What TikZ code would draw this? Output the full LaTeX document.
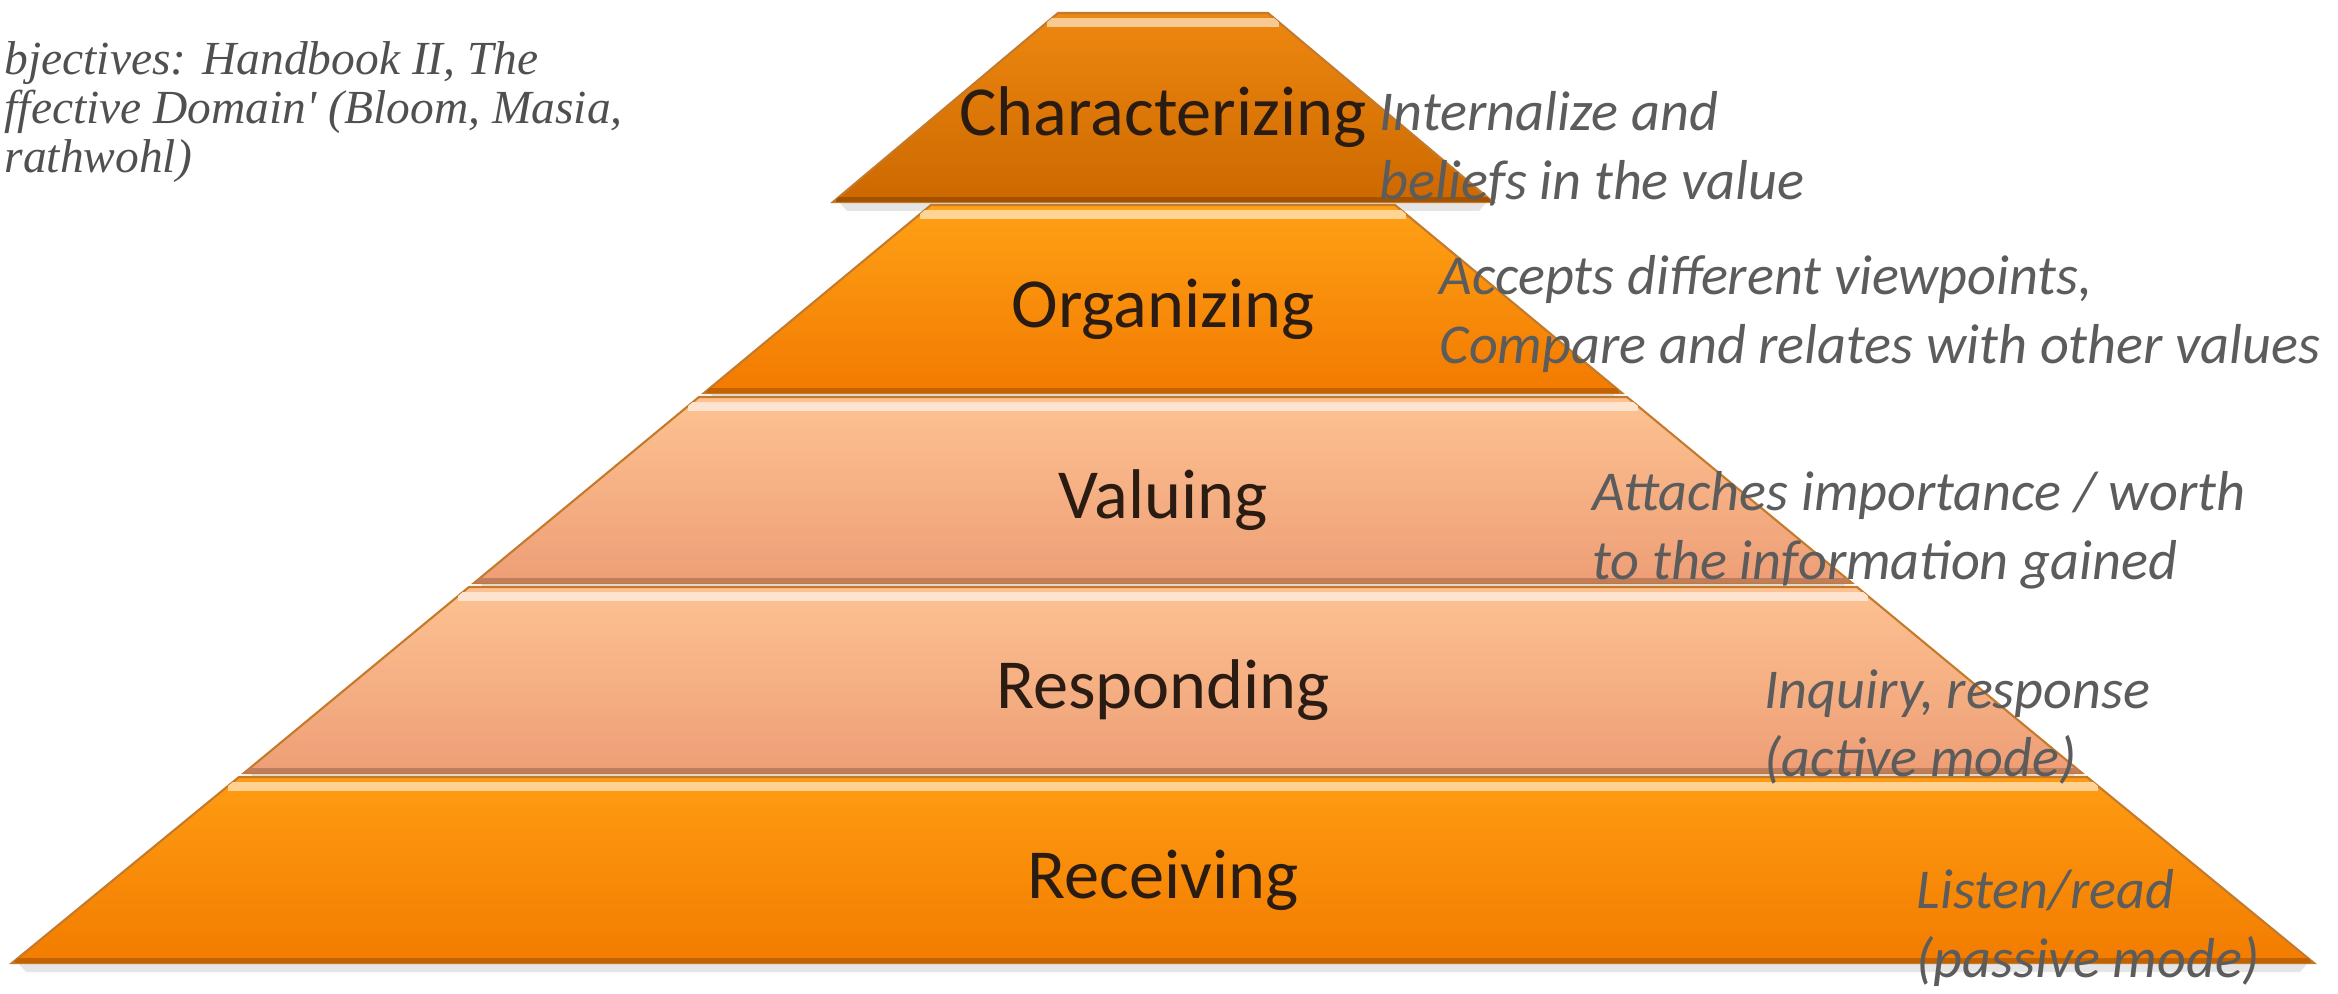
\documentclass[tikz,border=0pt]{standalone}
\usepackage{fontspec}
\newfontfamily\calib{Carlito}
\newfontfamily\serifit{Liberation Serif}
\usepackage{tikz}
\usetikzlibrary{calc}
\usetikzlibrary{positioning}

\definecolor{charTop}{HTML}{EE8810}
\definecolor{charBot}{HTML}{CC6800}
\definecolor{orgTop}{HTML}{FFA116}
\definecolor{orgBot}{HTML}{F27A00}
\definecolor{peachTop}{HTML}{FDC292}
\definecolor{peachBot}{HTML}{EE9E76}
\definecolor{recTop}{HTML}{FF9C12}
\definecolor{recBot}{HTML}{F27C00}
\definecolor{tieredge}{HTML}{C47A2C}
\definecolor{nametext}{HTML}{2A1C12}
\definecolor{remarkgray}{HTML}{5C5C5C}
\definecolor{citegray}{HTML}{505050}

\begin{document}
\begin{tikzpicture}[x=0.01cm, y=-0.01cm,
        tier/.style={draw=tieredge, line width=0.6pt, line join=miter},
        shine/.style={line width=2.5pt},
        levelname/.style={font=\calib\fontsize{20}{24}\selectfont, text=nametext, inner sep=0pt},
        remark/.style={font=\calib\itshape\fontsize{16}{19.5}\selectfont, text=remarkgray, align=left, anchor=west, inner sep=0pt},
        citation/.style={font=\serifit\itshape\fontsize{13.5}{14}\selectfont, text=citegray, align=left, anchor=west, inner sep=0pt}]
            \useasboundingbox (0,0) rectangle (2338,994);
            \clip (0,0) rectangle (2338,994);
            \coordinate (apex) at (1163,0);
            \def\tiers{13/202/105/330/charTop/charBot/Characterizing,
                205/393/232/459/orgTop/orgBot/Organizing,
                397/583/464/689/peachTop/peachBot/Valuing,
                587/773/694/919/peachTop/peachBot/Responding,
                777/963/924/1151/recTop/recBot/Receiving}
            \foreach \ya/\yb/\wa/\wb/\ca/\cb/\name[count=\i from 1] in \tiers
            {
                \coordinate (tl\i) at ($(apex)+(-\wa,\ya)$);
                \coordinate (tr\i) at ($(apex)+(\wa,\ya)$);
                \coordinate (bl\i) at ($(apex)+(-\wb,\yb)$);
                \coordinate (br\i) at ($(apex)+(\wb,\yb)$);
                \fill[black, opacity=0.10] ($(bl\i)+(6,0)$) -- ($(br\i)+(-6,0)$) -- ($(br\i)+(-14,9)$) -- ($(bl\i)+(14,9)$) -- cycle;
                \shade[tier, top color=\ca, bottom color=\cb] (tl\i) -- (tr\i) -- (br\i) -- (bl\i) -- cycle;
                \begin{scope}
                    \clip (tl\i) -- (tr\i) -- (br\i) -- (bl\i) -- cycle;
                    \draw[shine, draw=\ca!45!white] ($(tl\i)!0.05!(bl\i)$) -- ($(tr\i)!0.05!(br\i)$);
                    \draw[line width=1.5pt, draw=\cb!80!black] ($(bl\i)!0.015!(tl\i)$) -- ($(br\i)!0.015!(tr\i)$);
                \end{scope}
                \node[levelname] (tier\i) at ($(apex)+(0,{(\ya+\yb)/2+10})$) {\name};
            }
            \node[remark] (internalize) at (1379,149) {Internalize and\\beliefs in the value};
            \node[remark] (accepts) at (1439,314) {Accepts different viewpoints,\\Compare and relates with other values};
            \node[remark] (attaches) at (1592,530) {Attaches importance / worth\\to the information gained};
            \node[remark] (inquiry) at (1764,727) {Inquiry, response\\(active mode)};
            \node[remark] (listen) at (1916,928) {Listen/read\\(passive mode)};
            \node[citation] (source) at (4,112) {bjectives: Handbook II, The\\ffective Domain' (Bloom, Masia,\\rathwohl)};
        \end{tikzpicture}
\end{document}
